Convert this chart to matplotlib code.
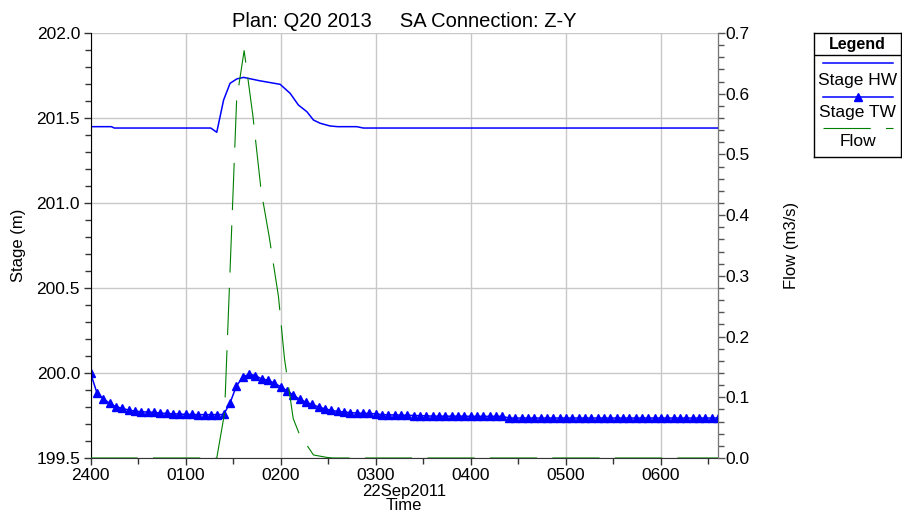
import numpy as np
import matplotlib.pyplot as plt
from matplotlib.ticker import MultipleLocator

plt.rcParams['font.family'] = ['Liberation Sans', 'DejaVu Sans']
plt.rcParams['lines.scale_dashes'] = False

# Stage HW (m) at breakpoints, time in hours after 2400
hw_hours = [0, 0.22, 0.25, 1.265, 1.328, 1.40, 1.468, 1.539, 1.61, 1.78, 1.995,
            2.10, 2.187, 2.276, 2.345, 2.416, 2.52, 2.60, 2.80, 2.87, 6.6]
hw_stage = [201.449, 201.449, 201.441, 201.441, 201.416, 201.606, 201.704, 201.730,
            201.739, 201.719, 201.698, 201.645, 201.576, 201.537, 201.488, 201.469,
            201.453, 201.449, 201.449, 201.441, 201.441]

# Stage TW (m), one value every 4 minutes
tw_step_min = 4
tw_stage = [
    200.000, 199.885, 199.850, 199.822, 199.802, 199.792, 199.782, 199.776, 199.772, 199.770,
    199.768, 199.764, 199.762, 199.760, 199.758, 199.757, 199.756, 199.755, 199.755, 199.755,
    199.755, 199.756, 199.822, 199.922, 199.975, 199.993, 199.985, 199.965, 199.958, 199.940,
    199.920, 199.895, 199.870, 199.845, 199.828, 199.815, 199.800, 199.789, 199.780, 199.774,
    199.770, 199.767, 199.764, 199.763, 199.762, 199.760, 199.755, 199.754, 199.753, 199.752,
    199.751, 199.750, 199.749, 199.748, 199.746, 199.746, 199.746, 199.746, 199.746, 199.746,
    199.745, 199.745, 199.745, 199.745, 199.745, 199.745, 199.735, 199.735, 199.735, 199.735,
    199.735, 199.735, 199.735, 199.735, 199.735, 199.735, 199.735, 199.735, 199.735, 199.735,
    199.735, 199.735, 199.735, 199.735, 199.735, 199.735, 199.735, 199.735, 199.735, 199.735,
    199.735, 199.735, 199.735, 199.735, 199.735, 199.735, 199.735, 199.735, 199.735, 199.735,
]

# Flow (m3/s) at breakpoints
flow_hours = [0, 1.328, 1.41, 1.537, 1.616, 1.707, 1.795, 1.879, 1.977, 2.04,
              2.132, 2.195, 2.345, 2.486, 2.55, 6.6]
flow = [0, 0, 0.074, 0.59, 0.671, 0.565, 0.44, 0.365, 0.266, 0.164,
        0.065, 0.04, 0.005, 0.001, 0, 0]

time_labels = ['2400', '0100', '0200', '0300', '0400', '0500', '0600']

FLOW_DASH = [34, 11]

W, H = 902, 514
fig = plt.figure(figsize=(W / 100, H / 100), dpi=100)
ax = fig.add_axes([90.5 / W, 1 - 458 / H, 627.5 / W, 425 / H])
ax2 = ax.twinx()

tw_hours = np.arange(len(tw_stage)) * tw_step_min / 60.0
ax.plot(hw_hours, hw_stage, color='#0000ff', lw=1.1)
ax.plot(tw_hours, tw_stage, color='#0000ff', lw=1.1, marker='^', markersize=5.5)
fl, = ax2.plot(flow_hours, flow, color='#008000', lw=0.8)
fl.set_dashes(FLOW_DASH)

ax.set_xlim(0, 6.6)
ax.set_ylim(199.5, 202.0)
ax2.set_ylim(0, 0.7)

ax.xaxis.set_minor_locator(MultipleLocator(0.5))
ax.set_xticks(range(len(time_labels)))
ax.set_xticklabels(time_labels)
ax.yaxis.set_major_locator(MultipleLocator(0.5))
ax.yaxis.set_minor_locator(MultipleLocator(0.1))
ax.yaxis.set_major_formatter('{x:.1f}')
ax2.yaxis.set_major_locator(MultipleLocator(0.1))
ax2.yaxis.set_minor_locator(MultipleLocator(0.02))
ax2.yaxis.set_major_formatter('{x:.1f}')

ax.grid(True, which='major', color='#c8c8c8', lw=1)
ax.set_axisbelow(True)

ax.tick_params(axis='both', which='major', labelsize=12.5, length=5, width=1,
               direction='out', color='#333333')
ax.tick_params(axis='both', which='minor', length=4, width=1, color='#333333')
ax.tick_params(axis='y', pad=2.5)
ax.tick_params(axis='x', pad=2.5)
ax2.tick_params(axis='y', which='major', labelsize=12.5, length=5, width=1,
                color='#555555', pad=0.5)
ax2.tick_params(axis='y', which='minor', length=4, width=1, color='#555555')

for a in (ax, ax2):
    a.spines['top'].set_visible(False)
ax.spines['left'].set_color('black')
ax.spines['bottom'].set_color('#333333')
ax2.spines['left'].set_visible(False)
ax2.spines['bottom'].set_visible(False)
ax2.spines['right'].set_color('#777777')

ax.set_ylabel('Stage (m)', fontsize=12)
ax.yaxis.set_label_coords(-0.103, 0.5)
ax2.set_ylabel('Flow (m3/s)', fontsize=12)
ax2.yaxis.set_label_coords(1.105, 0.5)

ax.set_title('Plan: Q20 2013     SA Connection: Z-Y', fontsize=14.5, pad=4)
xc = ax.get_position().x0 + ax.get_position().width / 2
fig.text(xc, 1 - 491.5 / H, '22Sep2011', ha='center', va='center', fontsize=12)
fig.text(xc, 1 - 505.5 / H, 'Time', ha='center', va='center', fontsize=12)

# legend box drawn by hand: title row, then each sample line with its name below
lax = fig.add_axes([814 / W, 1 - 157 / H, 87 / W, 124 / H])
lax.set_xlim(814, 901)
lax.set_ylim(157, 33)
lax.set_xticks([])
lax.set_yticks([])
for s in lax.spines.values():
    s.set_color('black')
    s.set_linewidth(1)
lax.axhline(55, color='black', lw=1)
lax.text(857.5, 44, 'Legend', ha='center', va='center', fontsize=11.5, fontweight='bold')
lax.plot([822.7, 893.3], [63.3, 63.3], color='#0000ff', lw=1.1)
lax.text(857.5, 80, 'Stage HW', ha='center', va='center', fontsize=12.5)
lax.plot([822.7, 893.3], [96.7, 96.7], color='#0000ff', lw=1.1)
lax.plot([858], [96.7], color='#0000ff', marker='^', markersize=5.5)
lax.text(857.5, 112, 'Stage TW', ha='center', va='center', fontsize=12.5)
leg_fl, = lax.plot([822.7, 893.3], [127.7, 127.7], color='#008000', lw=0.8)
leg_fl.set_dashes(FLOW_DASH)
lax.text(857.5, 141, 'Flow', ha='center', va='center', fontsize=12.5)

fig.savefig('out.png', dpi=100)
